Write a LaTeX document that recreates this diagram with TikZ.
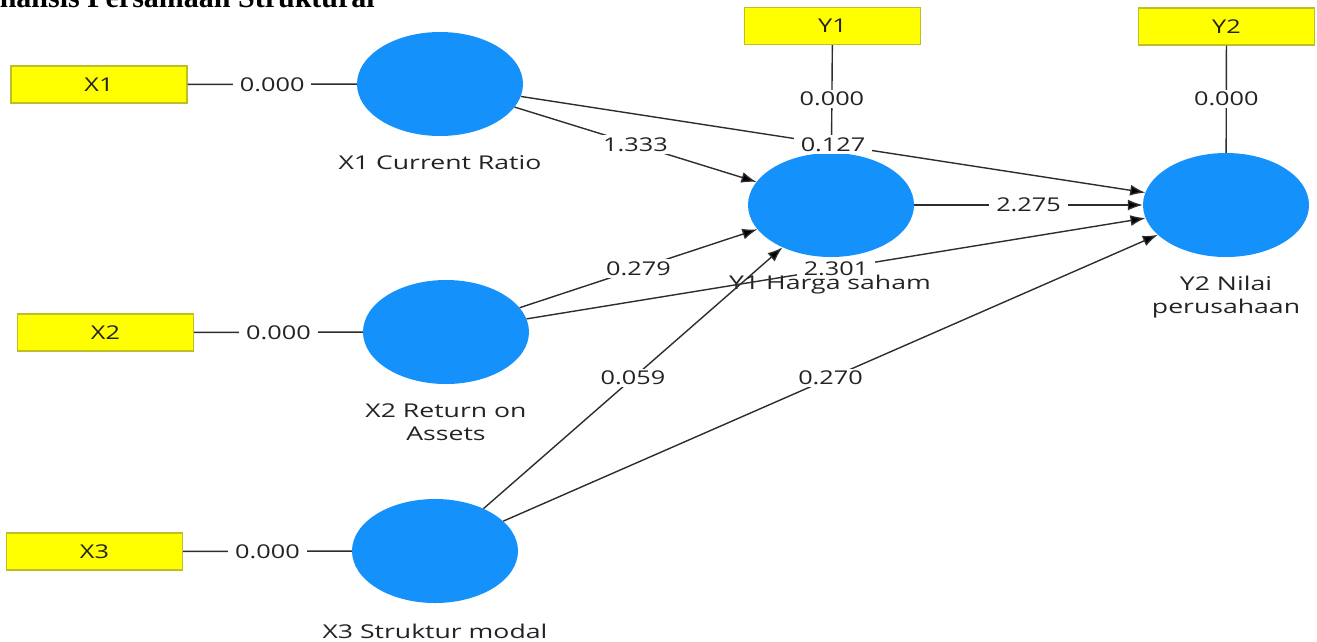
\documentclass[tikz,border=0pt]{standalone}
\usepackage{fontspec}
\setmainfont{Open Sans}[FakeStretch=1.4]
\newfontfamily\valfont{Open Sans}[FakeStretch=1.33]
\newfontfamily\titlefont{Liberation Serif}
\usetikzlibrary{shapes.geometric,arrows.meta,calc}
\definecolor{lv}{RGB}{20,145,250}
\definecolor{ind}{RGB}{255,255,0}
\definecolor{indb}{RGB}{190,190,40}
\definecolor{edgec}{RGB}{45,45,45}
\definecolor{txt}{RGB}{35,35,35}
\begin{document}
\begin{tikzpicture}[x=1pt,y=-1pt,
  lvnode/.style={ellipse, fill=lv, minimum width=166pt, minimum height=104pt, inner sep=0pt},
  indnode/.style={rectangle, fill=ind, draw=indb, line width=1.2pt, minimum width=176pt, minimum height=37pt, inner sep=0pt, font=\valfont\fontsize{19}{22}\selectfont, text=txt},
  lvlabel/.style={font=\fontsize{19}{23}\selectfont, text=txt, align=center, inner sep=0pt},
  conn/.style={draw=edgec, line width=1.4pt},
  arr/.style={conn, -{Latex[length=15pt,width=11pt,fill=black]}},
  val/.style={fill=white, font=\valfont\fontsize{19}{22}\selectfont, text=txt, inner xsep=7pt, inner ysep=2pt, pos=0.5}
]
\useasboundingbox (0,0) rectangle (1317,641);
\node[anchor=base east, font=\titlefont\bfseries\fontsize{30}{32}\selectfont, inner sep=0pt] (title) at (375,7) {Analisis Persamaan Struktural};

\node[indnode] (x1b) at (99,84.5) {X1};
\node[indnode] (x2b) at (105.5,332.5) {X2};
\node[indnode] (x3b) at (94.5,551.5) {X3};
\node[indnode] (y1b) at (832.5,26) {Y1};
\node[indnode] (y2b) at (1226.5,26.5) {Y2};

\node[lvnode] (x1) at (440,84) {};
\node[lvnode] (x2) at (446,332) {};
\node[lvnode] (x3) at (435,551) {};
\node[lvnode] (y1) at (831,205) {};
\node[lvnode] (y2) at (1226,205) {};

\node[lvlabel] (x1l) at (440,163) {X1 Current Ratio};
\node[lvlabel] (x2l) at (446,422) {X2 Return on\\Assets};
\node[lvlabel] (x3l) at (435,631) {X3 Struktur modal};
\node[lvlabel] (y1l) at (830,285) {Y1 Harga saham};
\node[lvlabel] (y2l) at (1226,297) {Y2 Nilai\\perusahaan};

\draw[conn] (x1b) -- node[val] {0.000} (x1);
\draw[conn] (x2b) -- node[val] {0.000} (x2);
\draw[conn] (x3b) -- node[val] {0.000} (x3);
\draw[conn] (y1b) -- node[val] {0.000} (y1);
\draw[conn] (y2b) -- node[val] {0.000} (y2);

\draw[arr] (x1) -- node[val] {1.333} (y1);
\draw[arr] (x1) -- node[val] {0.127} (y2);
\draw[arr] (x2) -- node[val] {0.279} (y1);
\draw[arr] (x2) -- node[val] {2.301} (y2);
\draw[arr] (x3) -- node[val] {0.059} (y1);
\draw[arr] (x3) -- node[val] {0.270} (y2);
\draw[arr] (y1) -- node[val] {2.275} (y2);
\end{tikzpicture}
\end{document}
